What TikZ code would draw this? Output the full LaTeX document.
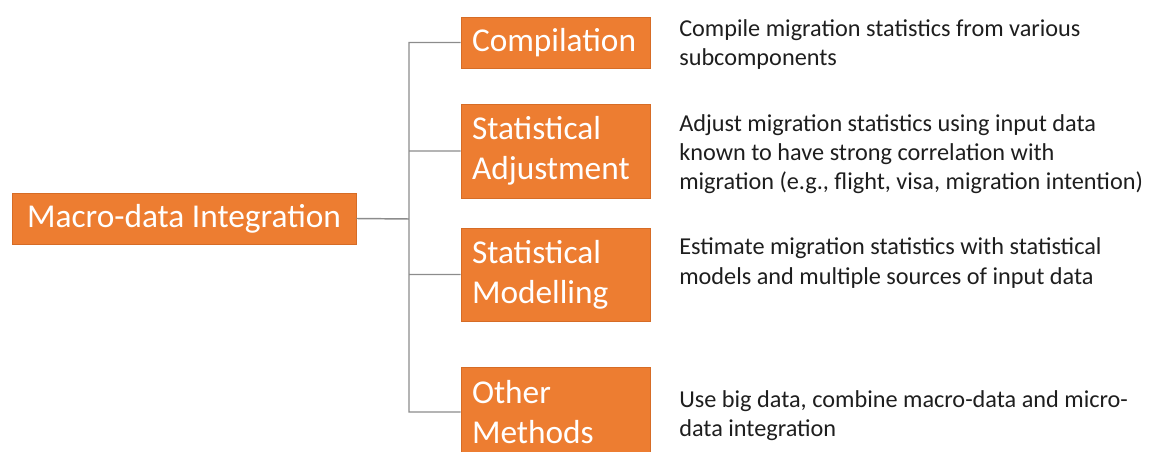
\documentclass[tikz,border=0pt]{standalone}
\usepackage{fontspec}
\setmainfont{Carlito}
\definecolor{boxorange}{RGB}{237,125,49}
\definecolor{boxedge}{RGB}{214,108,38}
\definecolor{linkgrey}{RGB}{140,140,140}
\definecolor{notetext}{RGB}{30,30,30}

\begin{document}
\begin{tikzpicture}[x=0.75pt,y=-0.75pt,
    topic/.style={rectangle,fill=boxorange,draw=boxedge,line width=0.6pt,text=white,
        font=\fontsize{25}{30}\selectfont,inner ysep=0pt},
    method/.style={topic,minimum width=141.75pt,text width=125.25pt,inner xsep=8.25pt,align=left},
    note/.style={anchor=base west,inner sep=0pt,text=notetext,font=\fontsize{18.2}{21.75}\selectfont},
    link/.style={draw=linkgrey,line width=1.1pt}]
    \useasboundingbox (0,0) rectangle (1152,452);
    % boxes
    \draw (184,218.5)   node[topic,minimum width=258pt,minimum height=38.25pt] (macro) {Macro-data Integration};
    \draw (555.5,42.5)  node[method,minimum height=38.25pt] (comp) {Compilation};
    \draw (555.5,151)   node[method,minimum height=70.5pt] (adj) {Statistical\\Adjustment};
    \draw (555.5,274.5) node[method,minimum height=69.75pt] (model) {Statistical\\Modelling};
    \draw (555.5,412)   node[method,minimum height=67.5pt] (other) {Other\\Methods};
    % descriptions
    \node[note] (compnote) at (679,36.5) {\begin{tabular}[t]{@{}l@{}}Compile migration statistics from various\\subcomponents\end{tabular}};
    \node[note] (adjnote) at (679,132) {\begin{tabular}[t]{@{}l@{}}Adjust migration statistics using input data\\known to have strong correlation with\\migration (e.g., flight, visa, migration intention)\end{tabular}};
    \node[note] (modelnote) at (679,255) {\begin{tabular}[t]{@{}l@{}}Estimate migration statistics with statistical\\models and multiple sources of input data\end{tabular}};
    \node[note] (othernote) at (679,407) {\begin{tabular}[t]{@{}l@{}}Use big data, combine macro-data and micro-\\data integration\end{tabular}};
    % connectors
    \coordinate (hub) at (409,219);
    \draw[link] (macro.east) -- (hub)
                (hub) |- (comp.west)
                (hub) |- (adj.west)
                (hub) |- (model.west)
                (hub) |- (other.west);
\end{tikzpicture}
\end{document}
